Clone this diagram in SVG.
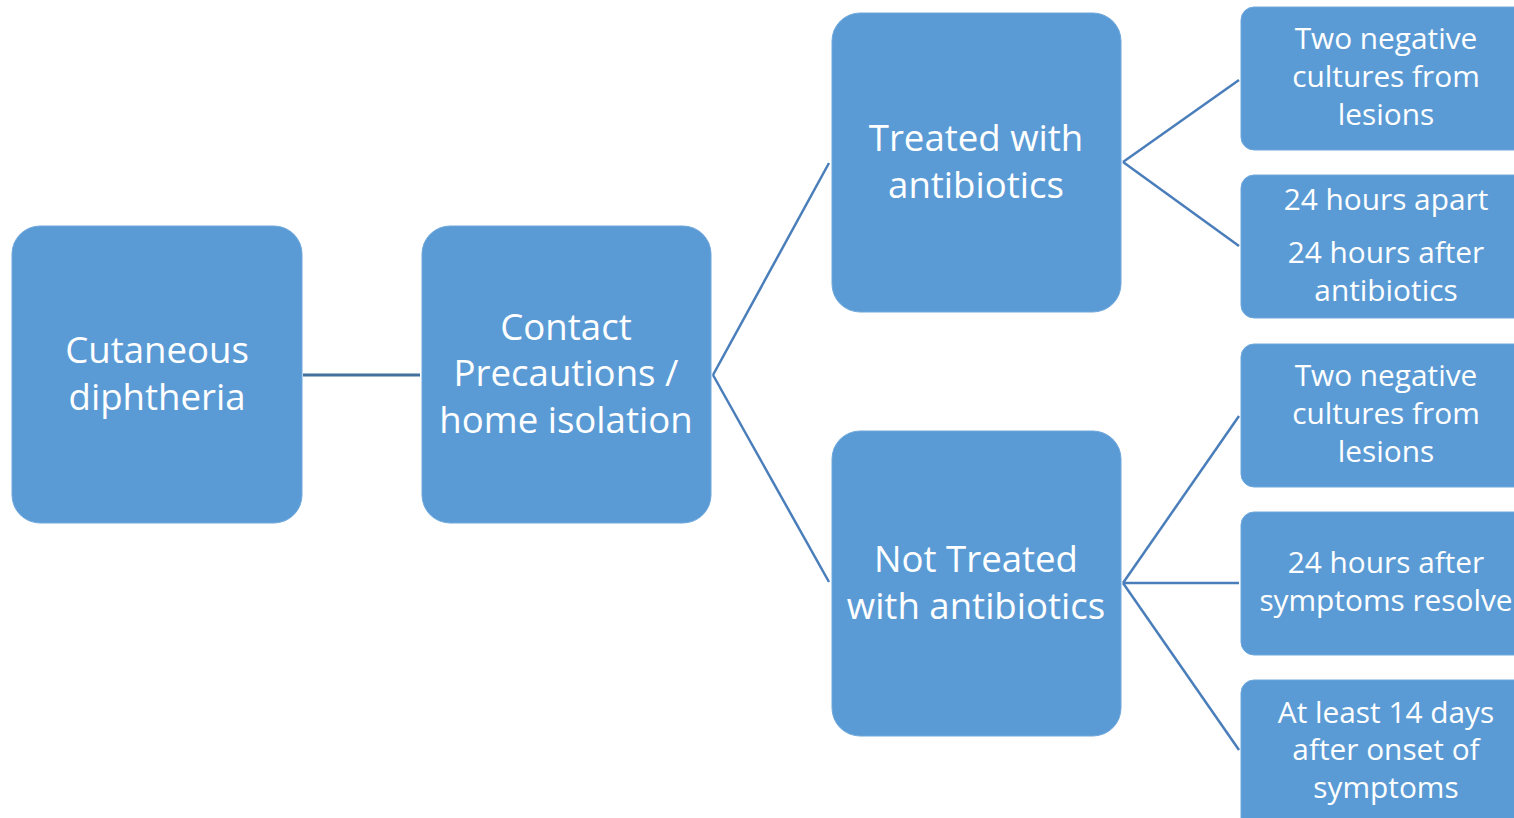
<svg xmlns="http://www.w3.org/2000/svg" width="1514" height="818" viewBox="0 0 1514 818">
<style>
.big{fill:#5B9BD5;stroke:#6FA8DC;stroke-width:1}
.sm{fill:#5B9BD5;stroke:#6FA8DC;stroke-width:1}
.t1{font-family:"Open Sans","Liberation Sans",sans-serif;font-size:36.6px;fill:#FFFFFF;text-anchor:middle}
.t2{font-family:"Open Sans","Liberation Sans",sans-serif;font-size:29.8px;fill:#FFFFFF;text-anchor:middle}
.c{stroke:#4A7EBB;stroke-width:2.5;fill:none}
</style>
<rect width="1514" height="818" fill="#FFFFFF"/>
<g id="connectors">
<line class="c" x1="303" y1="375" x2="420" y2="375" style="stroke:#41719C;stroke-width:3"/>
<line class="c" x1="713" y1="375" x2="829" y2="163"/>
<line class="c" x1="713" y1="375" x2="829" y2="582"/>
<line class="c" x1="1123" y1="162" x2="1239" y2="80"/>
<line class="c" x1="1123" y1="162" x2="1239" y2="246"/>
<line class="c" x1="1123" y1="583" x2="1239" y2="416"/>
<line class="c" x1="1123" y1="583" x2="1239" y2="583"/>
<line class="c" x1="1123" y1="583" x2="1239" y2="750"/>
</g>
<g id="n1">
<rect class="big" x="12" y="226" width="290" height="297" rx="28"/>
<text class="t1" x="157" y="363">Cutaneous</text>
<text class="t1" x="157" y="410">diphtheria</text>
</g>
<g id="n2">
<rect class="big" x="422" y="226" width="289" height="297" rx="28"/>
<text class="t1" x="566" y="340">Contact</text>
<text class="t1" x="566" y="386">Precautions /</text>
<text class="t1" x="566" y="433">home isolation</text>
</g>
<g id="n3">
<rect class="big" x="832" y="13" width="289" height="299" rx="28"/>
<text class="t1" x="976" y="151">Treated with</text>
<text class="t1" x="976" y="198">antibiotics</text>
</g>
<g id="n4">
<rect class="big" x="832" y="431" width="289" height="305" rx="28"/>
<text class="t1" x="976" y="572">Not Treated</text>
<text class="t1" x="976" y="619">with antibiotics</text>
</g>
<g id="r1">
<rect class="sm" x="1241" y="7" width="290" height="143" rx="13"/>
<text class="t2" x="1386" y="49">Two negative</text>
<text class="t2" x="1386" y="87">cultures from</text>
<text class="t2" x="1386" y="125">lesions</text>
</g>
<g id="r2">
<rect class="sm" x="1241" y="175" width="290" height="143" rx="13"/>
<text class="t2" x="1386" y="210">24 hours apart</text>
<text class="t2" x="1386" y="263">24 hours after</text>
<text class="t2" x="1386" y="301">antibiotics</text>
</g>
<g id="r3">
<rect class="sm" x="1241" y="344" width="290" height="143" rx="13"/>
<text class="t2" x="1386" y="386">Two negative</text>
<text class="t2" x="1386" y="424">cultures from</text>
<text class="t2" x="1386" y="462">lesions</text>
</g>
<g id="r4">
<rect class="sm" x="1241" y="512" width="290" height="143" rx="13"/>
<text class="t2" x="1386" y="573">24 hours after</text>
<text class="t2" x="1386" y="611">symptoms resolve</text>
</g>
<g id="r5">
<rect class="sm" x="1241" y="680" width="290" height="160" rx="13"/>
<text class="t2" x="1386" y="723">At least 14 days</text>
<text class="t2" x="1386" y="760">after onset of</text>
<text class="t2" x="1386" y="798">symptoms</text>
</g>
</svg>
